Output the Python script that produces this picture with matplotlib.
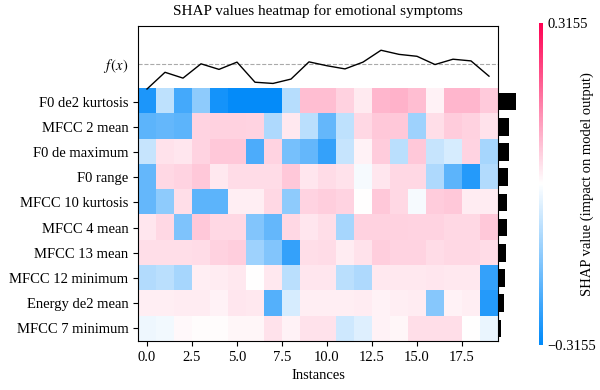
import numpy as np
import matplotlib
matplotlib.use('Agg')
import matplotlib.pyplot as plt
from matplotlib.colors import LinearSegmentedColormap

plt.rcParams['font.family'] = ['Liberation Serif', 'DejaVu Serif']
plt.rcParams['mathtext.fontset'] = 'stix'
plt.rcParams['axes.unicode_minus'] = True

features = ["F0 de2 kurtosis", "MFCC 2 mean", "F0 de maximum", "F0 range",
            "MFCC 10 kurtosis", "MFCC 4 mean", "MFCC 13 mean", "MFCC 12 minimum",
            "Energy de2 mean", "MFCC 7 minimum"]

# shap values, one row per feature, one column per instance
shap_rows = [
    [-0.28, -0.08, -0.23, -0.14, -0.29, -0.31, -0.31, -0.31, -0.09, 0.08, 0.08, 0.055, 0.025, 0.09, 0.095, 0.08, 0.015, 0.09, 0.09, 0.065],
    [-0.20, -0.19, -0.20, 0.052, 0.056, 0.056, 0.052, -0.10, 0.028, -0.085, -0.19, -0.08, 0.048, 0.068, 0.068, -0.12, 0.04, 0.064, 0.056, 0.036],
    [-0.07, 0.036, 0.032, 0.052, 0.068, 0.068, -0.22, 0.052, -0.17, -0.19, -0.25, -0.07, 0.016, 0.064, -0.085, 0.068, -0.07, -0.05, 0.052, -0.11],
    [-0.19, 0.048, 0.052, 0.068, 0.028, 0.044, 0.044, 0.044, 0.068, 0.032, 0.044, 0.036, -0.01, 0.032, 0.048, 0.048, -0.10, -0.20, -0.27, -0.095],
    [-0.19, -0.14, 0.04, -0.20, -0.20, 0.02, 0.02, 0.048, -0.14, 0.052, 0.06, 0.052, 0.0, 0.068, 0.048, -0.01, 0.064, 0.068, 0.024, 0.024],
    [0.032, 0.048, -0.16, 0.068, 0.048, 0.048, -0.155, -0.19, 0.048, 0.032, 0.04, -0.11, 0.056, 0.056, 0.056, 0.052, 0.052, 0.048, 0.048, 0.068],
    [0.04, 0.04, 0.04, 0.044, 0.056, 0.06, -0.12, -0.155, -0.25, 0.04, 0.044, 0.024, 0.036, 0.06, 0.052, 0.052, 0.044, 0.048, 0.048, 0.044],
    [-0.095, -0.085, -0.11, 0.02, 0.024, 0.028, 0.0, 0.028, -0.085, 0.032, 0.032, -0.085, -0.10, 0.028, 0.028, 0.028, 0.032, 0.028, 0.028, -0.25],
    [0.02, 0.02, 0.024, 0.024, 0.016, 0.032, 0.028, -0.21, -0.05, 0.02, 0.02, 0.02, 0.024, 0.016, 0.02, 0.024, -0.15, 0.016, 0.02, -0.27],
    [-0.02, -0.015, 0.008, 0.004, 0.004, 0.012, 0.012, 0.036, 0.016, 0.036, 0.036, -0.06, -0.04, 0.016, 0.012, 0.04, 0.04, 0.04, 0.0, -0.025],
]

# model output per instance (relative to base value)
fx = [-1.04, -0.35, -0.59, 0.0, -0.23, 0.07, -0.76, -0.81, -0.63, 0.08,
      -0.08, -0.21, 0.07, 0.56, 0.39, 0.31, -0.03, 0.19, 0.12, -0.51]

# global importance bars on the right
importance = [1.0, 0.62, 0.60, 0.55, 0.51, 0.49, 0.45, 0.40, 0.34, 0.17]

vlim = 0.3155

values = np.array(shap_rows)
fx = np.array(fx)
importance = np.array(importance)
n_feat, n_inst = values.shape

blue_rgb = (0.0, 0.541, 0.98)
red_rgb = (1.0, 0.0, 0.322)
cmap = LinearSegmentedColormap.from_list("red_white_blue", [blue_rgb, (1, 1, 1), red_rgb])

fig = plt.figure(figsize=(6, 3.9), dpi=100)
ax = fig.add_axes([0.23, 0.1256, 0.6, 0.8077])

ax.imshow(values, aspect='auto', interpolation='nearest', cmap=cmap, vmin=-vlim, vmax=vlim,
          extent=(-0.5, n_inst - 0.5, n_feat - 0.5, -0.5))

# f(x) line above the heatmap
ax.axhline(-1.5, color="#aaaaaa", linestyle="--", linewidth=0.8)
ax.plot(np.arange(n_inst), -fx / np.abs(fx).max() - 1.5, color="black", linewidth=1)

# importance bars
bars = ax.barh(np.arange(n_feat), importance / importance.max() * n_inst / 20, 0.7,
               left=n_inst - 0.5, color="black")
for b in bars:
    b.set_clip_on(False)

ax.set_ylim(n_feat - 0.5, -3)
ax.set_xlim(-0.5, n_inst - 0.5)
ax.set_yticks([-1.5] + list(range(n_feat)))
ax.set_yticklabels([r"$f\,(x)$"] + features, fontsize=10.5)
ax.yaxis.get_major_ticks()[0].tick1line.set_visible(False)
ax.set_xticks(np.arange(0, n_inst, 2.5))
ax.tick_params(axis='x', labelsize=10.5)
ax.set_xlabel("Instances", fontsize=10.5)
ax.set_title("SHAP values heatmap for emotional symptoms", fontsize=11, pad=8)

# colour bar
cax = fig.add_axes([0.899, 0.116, 0.006, 0.826])
sm = plt.cm.ScalarMappable(cmap=cmap, norm=plt.Normalize(-vlim, vlim))
cb = fig.colorbar(sm, cax=cax, ticks=[-vlim, vlim])
cb.ax.set_yticklabels(["\u22120.3155", "0.3155"], fontsize=10.5)
cb.ax.tick_params(length=0, pad=3)
cb.outline.set_visible(False)
cb.set_label("SHAP value (impact on model output)", fontsize=10.5, labelpad=-11)

fig.savefig("out.png", dpi=100)
